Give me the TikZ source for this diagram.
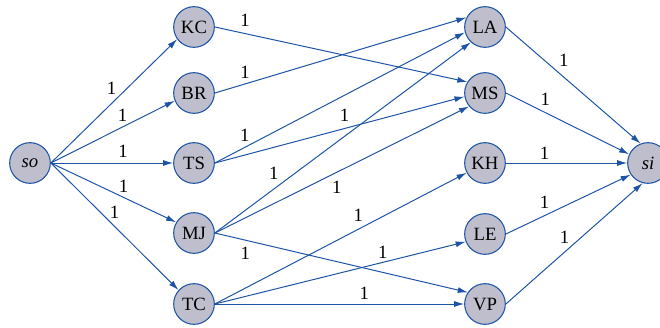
\documentclass[tikz,border=0pt]{standalone}
\usepackage{fontspec}
\setmainfont{Liberation Serif}
\usetikzlibrary{arrows.meta}
\definecolor{edgeblue}{RGB}{30, 84, 166}
\definecolor{nodegray}{RGB}{190, 190, 205}

\begin{document}
\begin{tikzpicture}[
        x=0.03cm, y=0.03cm,
        station/.style={circle, draw=edgeblue, line width=0.9pt, fill=nodegray,
            minimum size=1.22cm, inner sep=0pt, font=\fontsize{16}{19}\selectfont},
        flow/.style={-{Latex[length=3mm,width=1.8mm]}, draw=edgeblue, line width=0.85pt},
        wt/.style={inner sep=0pt, font=\fontsize{16}{19}\selectfont}
    ]
    \useasboundingbox (0,0) rectangle (660,-327);
    % source and sink
    \node[station] (so) at (30,-163) {\textit{so}};
    \node[station] (si) at (648,-163) {\textit{si}};
    % first column
    \node[station] (kc) at (194,-27) {KC};
    \node[station] (br) at (194,-93) {BR};
    \node[station] (ts) at (194,-163) {TS};
    \node[station] (mj) at (194,-233) {MJ};
    \node[station] (tc) at (194,-304) {TC};
    % second column
    \node[station] (la) at (485,-27) {LA};
    \node[station] (ms) at (485,-93) {MS};
    \node[station] (kh) at (485,-163) {KH};
    \node[station] (le) at (485,-234) {LE};
    \node[station] (vp) at (485,-304) {VP};
    % source edges
    \draw[flow] (so.east) -- (kc.216) node[wt, pos=.48, above=7.2pt] {1};
    \draw[flow] (so.east) -- (br.202) node[wt, pos=.58, above=4.5pt] {1};
    \draw[flow] (so.east) -- (ts.west) node[wt, pos=.59, above=4.6pt] {1};
    \draw[flow] (so.east) -- (mj.149) node[wt, pos=.58, above=3.8pt] {1};
    \draw[flow] (so.east) -- (tc.138) node[wt, pos=.50, above=6.1pt] {1};
    % middle edges
    \draw[flow] (kc.east) -- (ms.148) node[wt, pos=.12, above=5.9pt] {1};
    \draw[flow] (br.east) -- (la.153) node[wt, pos=.12, above=4.6pt] {1};
    \draw[flow] (ts.east) -- (la.195) node[wt, pos=.12, above=4.9pt] {1};
    \draw[flow] (ts.east) -- (ms.190) node[wt, pos=.52, above=5.2pt] {1};
    \draw[flow] (mj.east) -- (la.227) node[wt, pos=.23, above=8pt] {1};
    \draw[flow] (mj.east) -- (ms.220) node[wt, pos=.48, below=7.2pt] {1};
    \draw[flow] (mj.east) -- (vp.146) node[wt, pos=.12, below=5.3pt] {1};
    \draw[flow] (tc.east) -- (kh.208) node[wt, pos=.57, above=5.8pt] {1};
    \draw[flow] (tc.east) -- (le.202) node[wt, pos=.67, above=3pt] {1};
    \draw[flow] (tc.east) -- (vp.west) node[wt, pos=.60, above=3.8pt] {1};
    % sink edges
    \draw[flow] (la.east) -- (si.111) node[wt, pos=.43, above=9pt] {1};
    \draw[flow] (ms.east) -- (si.155) node[wt, pos=.32, above=5.8pt] {1};
    \draw[flow] (kh.east) -- (si.west) node[wt, pos=.32, above=2.9pt] {1};
    \draw[flow] (le.east) -- (si.214) node[wt, pos=.31, above=5.8pt] {1};
    \draw[flow] (vp.east) -- (si.255) node[wt, pos=.43, above=6.9pt] {1};
\end{tikzpicture}
\end{document}
